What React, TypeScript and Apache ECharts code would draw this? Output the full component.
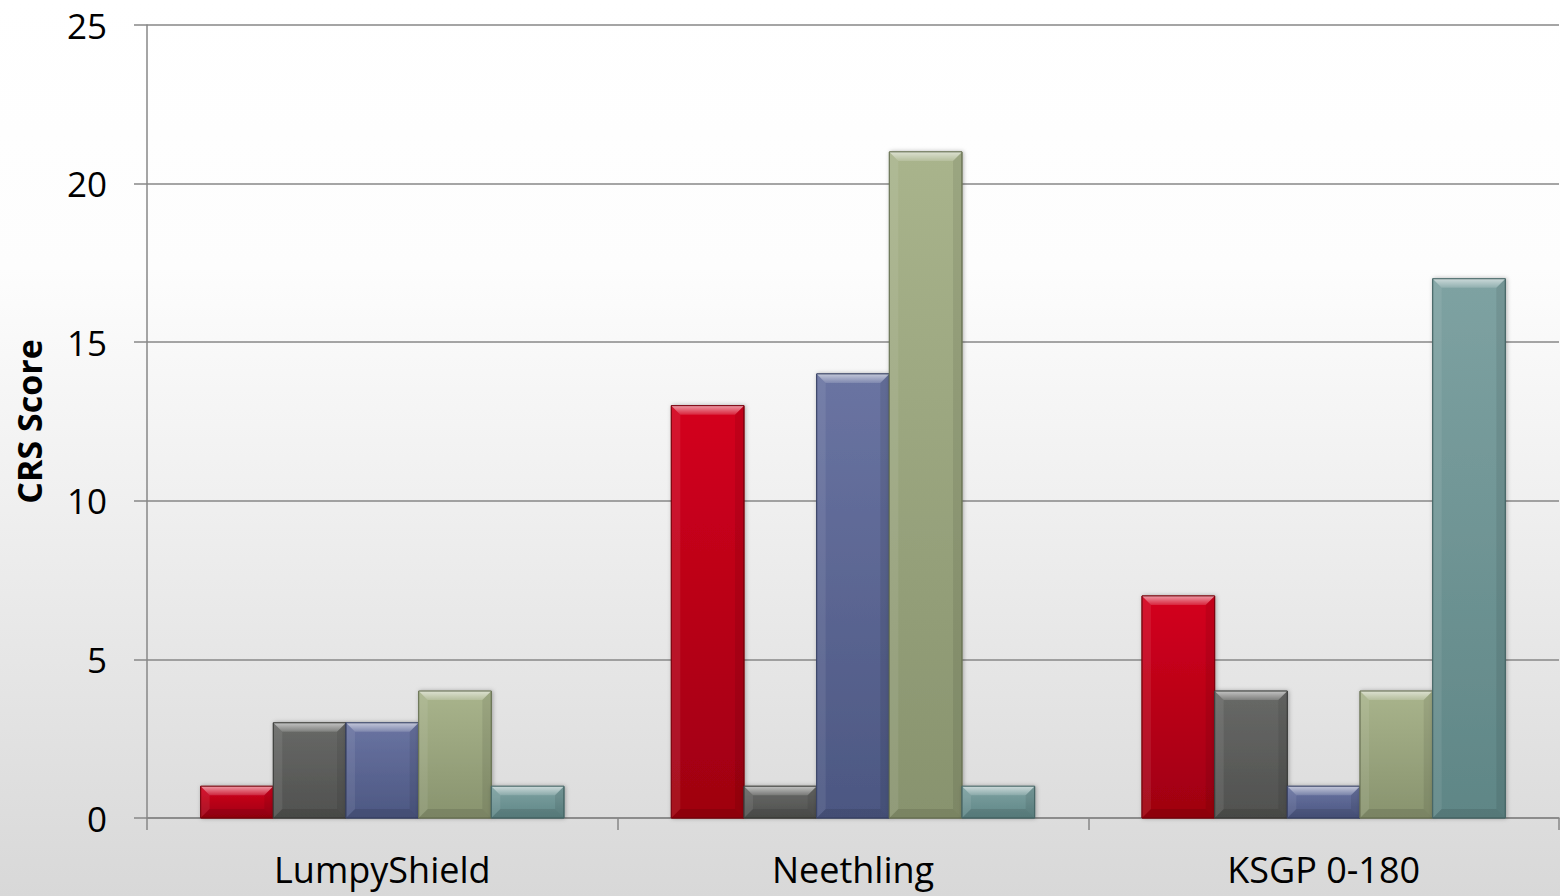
import React, { useEffect, useRef } from "react";
import * as echarts from "echarts";

const categories = ["LumpyShield", "Neethling", "KSGP 0-180"];
const seriesNames = ["Series 1", "Series 2", "Series 3", "Series 4", "Series 5"];
const series1 = [1, 13, 7];
const series2 = [3, 1, 4];
const series3 = [3, 14, 1];
const series4 = [4, 21, 4];
const series5 = [1, 1, 17];
const allSeries = [series1, series2, series3, series4, series5];
const yTicks = { min: 0, max: 25, interval: 5 };

const palette = [
  { top: "#d4051e", bottom: "#9e0010", edge: "#7a000c" },
  { top: "#686967", bottom: "#50514f", edge: "#3c3d3b" },
  { top: "#6a74a2", bottom: "#4c5782", edge: "#3a4366" },
  { top: "#a9b48c", bottom: "#88936e", edge: "#6c7556" },
  { top: "#7ea2a2", bottom: "#5f8686", edge: "#466666" },
];

function makeRender(s: number) {
  return (params: any, api: any) => {
    const i = api.value(0);
    const v = api.value(1);
    const catW = api.size([1, 0])[0];
    const groupW = catW * 0.772;
    const bw = groupW / 5;
    const base = api.coord([i, 0]);
    const top = api.coord([i, v]);
    const x0 = base[0] - groupW / 2 + s * bw;
    const x1 = x0 + bw;
    const y0 = top[1];
    const y1 = base[1];
    const h = y1 - y0;
    const b = Math.min(9, h / 2, bw / 2);
    const c = palette[s];
    return {
      type: "group",
      children: [
        {
          type: "rect",
          shape: { x: x0, y: y0, width: bw, height: h },
          style: {
            fill: new echarts.graphic.LinearGradient(0, 0, 0, 1, [
              { offset: 0, color: c.top },
              { offset: 1, color: c.bottom },
            ]),
            stroke: c.edge,
            lineWidth: 1,
            shadowBlur: 4,
            shadowColor: "rgba(0,0,0,0.3)",
            shadowOffsetX: 1,
            shadowOffsetY: 0,
          },
        },
        {
          type: "polygon",
          shape: { points: [[x0, y0], [x1, y0], [x1 - b, y0 + b], [x0 + b, y0 + b]] },
          style: {
            fill: new echarts.graphic.LinearGradient(0, 0, 0, 1, [
              { offset: 0, color: "rgba(255,255,255,0.6)" },
              { offset: 1, color: "rgba(255,255,255,0.15)" },
            ]),
          },
        },
        {
          type: "polygon",
          shape: { points: [[x0, y0], [x0 + b, y0 + b], [x0 + b, y1 - b], [x0, y1]] },
          style: { fill: "rgba(255,255,255,0.08)" },
        },
        {
          type: "polygon",
          shape: { points: [[x1, y0], [x1 - b, y0 + b], [x1 - b, y1 - b], [x1, y1]] },
          style: { fill: "rgba(0,0,0,0.08)" },
        },
        {
          type: "polygon",
          shape: { points: [[x0, y1], [x0 + b, y1 - b], [x1 - b, y1 - b], [x1, y1]] },
          style: { fill: "rgba(0,0,0,0.1)" },
        },
        {
          type: "rect",
          shape: { x: x0, y: y0, width: bw, height: h },
          style: { fill: "none", stroke: c.edge, lineWidth: 1, opacity: 0.8 },
        },
      ],
    };
  };
}

export default function App() {
  const ref = useRef<HTMLDivElement>(null);
  useEffect(() => {
    if (!ref.current) return;
    const chart = echarts.init(ref.current, null, { renderer: "svg" });
    const font = "'Open Sans', sans-serif";
    chart.setOption({
      animation: false,
      backgroundColor: "transparent",
      grid: { left: 147, right: 1, top: 25, bottom: 78 },
      xAxis: {
        type: "category",
        data: categories,
        boundaryGap: true,
        axisLine: { show: true, lineStyle: { color: "#878787", width: 1.5 } },
        axisTick: { show: true, length: 12, alignWithLabel: false, lineStyle: { color: "#878787", width: 1.5 } },
        axisLabel: { color: "#000", fontFamily: font, fontSize: 36, margin: 33 },
        splitLine: { show: false },
      },
      yAxis: {
        type: "value",
        min: yTicks.min,
        max: yTicks.max,
        interval: yTicks.interval,
        name: "CRS Score",
        nameLocation: "middle",
        nameGap: 101,
        nameRotate: 90,
        nameTextStyle: { color: "#000", fontFamily: font, fontSize: 34, fontWeight: "bold" },
        axisLine: { show: true, lineStyle: { color: "#878787", width: 1.5 } },
        axisTick: { show: true, length: 13, lineStyle: { color: "#878787", width: 1.5 } },
        axisLabel: { color: "#000", fontFamily: font, fontSize: 35, margin: 40 },
        splitLine: { show: true, lineStyle: { color: "#878787", width: 1.5 } },
      },
      series: allSeries.map((vals, s) => ({
        type: "custom",
        name: seriesNames[s],
        renderItem: makeRender(s),
        encode: { x: 0, y: 1 },
        data: vals.map((v, i) => [i, v]),
        z: 3,
      })),
    });
    return () => chart.dispose();
  }, []);
  return (
    <div
      ref={ref}
      style={{
        position: "fixed",
        left: 0,
        top: 0,
        width: 1560,
        height: 896,
        background: "linear-gradient(to bottom, #ffffff 0%, #fdfdfd 30%, #f0f0f0 55%, #d8d8d8 100%)",
      }}
    />
  );
}
